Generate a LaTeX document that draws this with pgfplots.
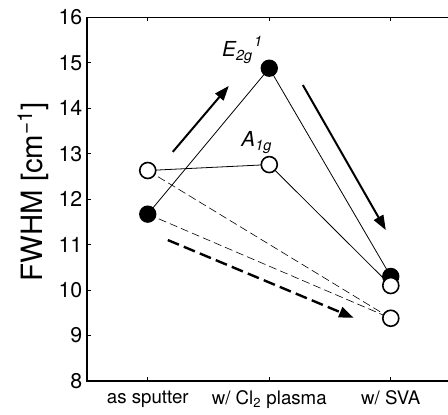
\documentclass[border=0pt]{standalone}
\usepackage{fontspec}
\setmainfont{TeX Gyre Heros}
\usepackage{pgfplots}
\pgfplotsset{compat=1.18}
\usetikzlibrary{arrows.meta}
\begin{document}
\begin{tikzpicture}
\begin{axis}[
  name=main,
  scale only axis, width=273.4pt, height=272.8pt,
  xmin=-0.5, xmax=2.5, ymin=8, ymax=16,
  xtick={0,1,2},
  xticklabels={as sputter, w/ Cl\textsubscript{2} plasma, w/ SVA},
  ytick={8,9,...,16},
  tick align=inside, major tick length=3pt,
  tick style={black, line width=0.6pt},
  axis line style={line width=0.8pt},
  /pgf/number format/assume math mode=true,
  yticklabel style={font=\fontsize{16}{18}\selectfont},
  xticklabel style={font=\fontsize{14}{16}\selectfont, yshift=-4pt},
  ylabel={FWHM [cm\textsuperscript{−1}]},
  ylabel style={font=\fontsize{22}{26}\selectfont,
    at={(axis description cs:-0.148,0.52)}, anchor=center},
  clip=false,
]
% connecting lines (drawn first so the markers sit on top)
\addplot[black, line width=0.45pt, dash pattern=on 6pt off 3pt] coordinates {(0,12.63) (2,9.38)};
\addplot[black, line width=0.45pt, dash pattern=on 6pt off 3pt] coordinates {(0,11.67) (2,9.38)};
\addplot[black, line width=0.6pt] coordinates {(0,11.67) (1,14.88) (2,10.30)};
\addplot[black, line width=0.6pt] coordinates {(0,12.63) (1,12.76) (2,10.10)};

% E2g^1 (filled)
\addplot[only marks, mark=*, mark size=6pt, mark options={draw=black, fill=black, line width=1pt}]
  coordinates {(0,11.67) (1,14.88) (2,10.30)};
% A1g (open)
\addplot[only marks, mark=*, mark size=6pt, mark options={draw=black, fill=white, line width=1.2pt}]
  coordinates {(0,12.63) (1,12.76) (2,10.10) (2,9.38)};

% trend arrows
\addplot[black, line width=1.5pt, -{Triangle[length=11pt,width=8pt]}]
  coordinates {(0.206,13.04) (0.667,14.49)};
\addplot[black, line width=1.5pt, -{Triangle[length=11pt,width=8pt]}]
  coordinates {(1.276,14.51) (1.959,11.32)};
\addplot[black, line width=1.8pt, dash pattern=on 9pt off 4pt, -{Triangle[length=11pt,width=8pt]}]
  coordinates {(0.165,11.10) (1.695,9.39)};

\node[font=\fontsize{15.5}{18}\selectfont\itshape] at (axis cs:0.78,15.28) {E\textsubscript{2g}\kern1pt\raisebox{2pt}{\textsuperscript{1}}};
\node[font=\fontsize{15.5}{18}\selectfont\itshape] at (axis cs:0.897,13.24) {A\textsubscript{1g}};
\end{axis}
\pgfresetboundingbox
\path[use as bounding box] ([shift={(-65.25pt,-24.75pt)}]main.south west)
  rectangle ([shift={(270.75pt,285.75pt)}]main.south west);
\end{tikzpicture}
\end{document}
